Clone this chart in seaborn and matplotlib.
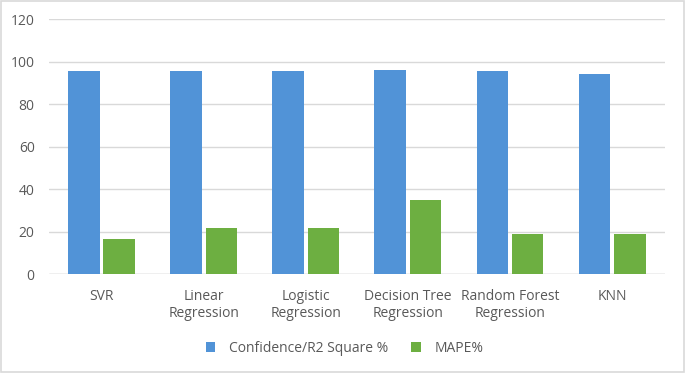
import matplotlib
matplotlib.use("Agg")
import matplotlib.pyplot as plt
import seaborn as sns
import pandas as pd
from matplotlib.patches import Rectangle

# values
models = ['SVR', 'Linear\nRegression', 'Logistic\nRegression',
          'Decision Tree\nRegression', 'Random Forest\nRegression', 'KNN']
confidence = [95.4, 95.7, 95.7, 96.0, 95.7, 94.1]
mape = [16.3, 21.6, 21.6, 34.8, 18.7, 18.7]
series = ['Confidence/R2 Square %', 'MAPE%']
colors = ['#5193D7', '#6DAF41']

df = pd.DataFrame({
    'model': models * 2,
    'value': confidence + mape,
    'series': [series[0]] * len(models) + [series[1]] * len(models),
})

sns.set_style('white')
plt.rcParams['font.family'] = ['Open Sans', 'DejaVu Sans']
text_col = '#595959'

fig = plt.figure(figsize=(6.85, 3.73), dpi=100)
ax = fig.add_axes([0.071, 0.265, 0.900, 0.684])

sns.barplot(data=df, x='model', y='value', hue='series', palette=colors,
            width=0.69, gap=0.1, ax=ax, saturation=1, edgecolor='none')

ax.set_ylim(0, 120)
ax.set_yticks(range(0, 121, 20))
ax.set_xlim(-0.52, len(models) - 0.48)
ax.grid(axis='y', color='#D9D9D9', linewidth=1)
ax.set_axisbelow(True)
for s in ax.spines.values():
    s.set_visible(False)
ax.axhline(0, color='#D0D0D0', linewidth=1, zorder=0.5)
ax.tick_params(axis='both', length=0, colors=text_col, labelsize=10)
ax.tick_params(axis='x', pad=10.5)
ax.tick_params(axis='y', pad=10)
ax.set_xlabel('')
ax.set_ylabel('')

leg = ax.legend(loc='center', bbox_to_anchor=(0.48, -0.292), ncol=2,
                frameon=False, fontsize=10, handlelength=0.7, handleheight=0.7,
                columnspacing=1.6, handletextpad=1.0)
for t in leg.get_texts():
    t.set_color(text_col)

fig.patches.append(Rectangle((0.002, 0.003), 0.996, 0.994, transform=fig.transFigure,
                             fill=False, edgecolor='#D9D9D9', linewidth=1.2))

fig.savefig('out.png', dpi=100)
